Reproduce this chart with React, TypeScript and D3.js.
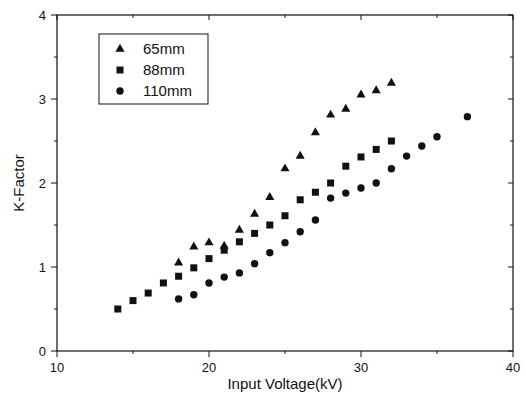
import React from "react";
import * as d3 from "d3";

const x65 = [18, 19, 20, 21, 22, 23, 24, 25, 26, 27, 28, 29, 30, 31, 32];
const k65 = [1.05, 1.24, 1.29, 1.25, 1.44, 1.63, 1.83, 2.17, 2.32, 2.6, 2.81, 2.88, 3.05, 3.1, 3.19];
const x88 = [14, 15, 16, 17, 18, 19, 20, 21, 22, 23, 24, 25, 26, 27, 28, 29, 30, 31, 32];
const k88 = [0.5, 0.6, 0.69, 0.81, 0.89, 0.99, 1.1, 1.2, 1.3, 1.4, 1.5, 1.61, 1.8, 1.89, 2.0, 2.2, 2.31, 2.4, 2.5];
const x110 = [18, 19, 20, 21, 22, 23, 24, 25, 26, 27, 28, 29, 30, 31, 32, 33, 34, 35, 37];
const k110 = [0.62, 0.67, 0.81, 0.88, 0.93, 1.04, 1.17, 1.29, 1.42, 1.56, 1.82, 1.88, 1.94, 2.0, 2.17, 2.32, 2.44, 2.55, 2.79];
const xTicks = [10, 20, 30, 40];
const yTicks = [0, 1, 2, 3, 4];
const xMinor = [15, 25, 35];
const yMinor = [0.5, 1.5, 2.5, 3.5];
const legendLabels = ["65mm", "88mm", "110mm"];

export default function App() {
  const W = 526, H = 408;
  const L = 57, R = 513, T = 15, B = 351;
  const x = d3.scaleLinear().domain([10, 40]).range([L, R]);
  const y = d3.scaleLinear().domain([0, 4]).range([B, T]);
  const font = "Arial, 'Liberation Sans', sans-serif";
  const tri = d3.symbol().type(d3.symbolTriangle).size(36)() as string;

  const marker = (i: number, cx: number, cy: number, key: string) => {
    if (i === 0) return <path key={key} d={tri} transform={`translate(${cx},${cy})`} fill="#111" />;
    if (i === 1) return <rect key={key} x={cx - 3.5} y={cy - 3.5} width={7} height={7} fill="#111" />;
    return <circle key={key} cx={cx} cy={cy} r={3.7} fill="#111" />;
  };

  const series = [
    { xs: x65, ks: k65 },
    { xs: x88, ks: k88 },
    { xs: x110, ks: k110 },
  ];

  return (
    <svg width={W} height={H} style={{ position: "absolute", left: 0, top: 0, background: "#fff" }}>
      <rect x={L} y={T} width={R - L} height={B - T} fill="none" stroke="#111" strokeWidth={1.2} />
      {xTicks.map((t) => (
        <g key={"xt" + t}>
          <line x1={x(t)} x2={x(t)} y1={B} y2={B + 6} stroke="#111" />
          <line x1={x(t)} x2={x(t)} y1={T} y2={T + 5} stroke="#111" />
          <text x={x(t)} y={B + 21} textAnchor="middle" fontSize={13} fontFamily={font} fill="#111">{t}</text>
        </g>
      ))}
      {xMinor.map((t) => (
        <g key={"xm" + t}>
          <line x1={x(t)} x2={x(t)} y1={B} y2={B + 3} stroke="#111" />
          <line x1={x(t)} x2={x(t)} y1={T} y2={T + 3} stroke="#111" />
        </g>
      ))}
      {yTicks.map((t) => (
        <g key={"yt" + t}>
          <line x1={L - 6} x2={L} y1={y(t)} y2={y(t)} stroke="#111" />
          <line x1={R - 5} x2={R} y1={y(t)} y2={y(t)} stroke="#111" />
          <text x={L - 11} y={y(t) + 4.5} textAnchor="end" fontSize={13} fontFamily={font} fill="#111">{t}</text>
        </g>
      ))}
      {yMinor.map((t) => (
        <g key={"ym" + t}>
          <line x1={L - 3} x2={L} y1={y(t)} y2={y(t)} stroke="#111" />
          <line x1={R - 3} x2={R} y1={y(t)} y2={y(t)} stroke="#111" />
        </g>
      ))}
      <text x={(L + R) / 2} y={B + 38} textAnchor="middle" fontSize={15} fontFamily={font} fill="#111">Input Voltage(kV)</text>
      <text transform={`translate(24,${(T + B) / 2}) rotate(-90)`} textAnchor="middle" fontSize={15} fontFamily={font} fill="#111">K-Factor</text>
      {series.map((s, i) => s.xs.map((v, j) => marker(i, x(v), y(s.ks[j]), `m${i}-${j}`)))}
      <rect x={99} y={34} width={109} height={70} fill="none" stroke="#111" strokeWidth={1} />
      {legendLabels.map((lab, i) => (
        <g key={lab}>
          {marker(i, 120, 49 + i * 21, "lg" + i)}
          <text x={143} y={49 + i * 21 + 5} fontSize={15} fontFamily={font} fill="#111">{lab}</text>
        </g>
      ))}
    </svg>
  );
}
